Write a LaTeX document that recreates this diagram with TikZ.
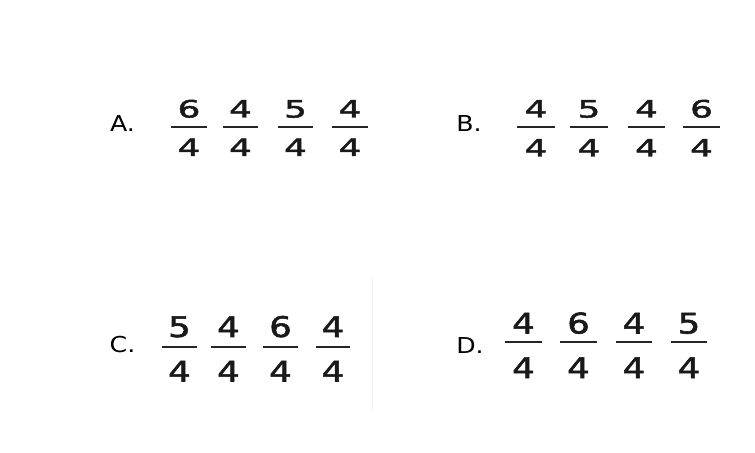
\documentclass[tikz,border=0pt]{standalone}
\usepackage{fontspec}
\setmainfont{DejaVu Sans}
\newfontfamily\digafont[FakeStretch=1.5,FakeBold=2]{DejaVu Sans}
\newfontfamily\digbfont[FakeStretch=1.25,FakeBold=2]{DejaVu Sans}
\newfontfamily\lblfont[FakeStretch=1.15]{DejaVu Sans}
\begin{document}
\begin{tikzpicture}[x=1bp,y=-1bp,
  lbl/.style={anchor=base,inner sep=0pt,font=\lblfont\fontsize{22}{26}\selectfont,text=black},
  dga/.style={anchor=base,inner sep=0pt,font=\digafont\fontsize{24}{28}\selectfont,text=black!90},
  dgb/.style={anchor=base,inner sep=0pt,font=\digbfont\fontsize{28.5}{32}\selectfont,text=black!90},
  bar/.style={line width=1.8bp,black!85}]
\useasboundingbox (0,0) rectangle (755,453);
% faint vertical line
\draw[black!5,line width=1bp] (372,277) -- (372,412);
% labels
\node[lbl] (la) at (122.5,132) {A.};
\node[lbl] (lb) at (469,132) {B.};
\node[lbl] (lc) at (122.5,353) {C.};
\node[lbl] (ld) at (470,354) {D.};
% A
\foreach \n/\cx/\hw/\t in {a1/189/18/6,a2/240.5/17.5/4,a3/295.5/17.5/5,a4/350/18/4}{
  \node[dga] (\n n) at (\cx,117.5) {\t};
  \node[dga] (\n d) at (\cx,156) {4};
  \draw[bar] (\cx-\hw,126.7) -- (\cx+\hw,126.7);
}
% B
\foreach \n/\cx/\hw/\t in {b1/536/19/4,b2/589/19/5,b3/646.5/18.5/4,b4/701.5/18.5/6}{
  \node[dga] (\n n) at (\cx,117.5) {\t};
  \node[dga] (\n d) at (\cx,156.5) {4};
  \draw[bar] (\cx-\hw,126.7) -- (\cx+\hw,126.7);
}
% C
\foreach \n/\cx/\hw/\t in {c1/179.5/17.5/5,c2/228.5/17.5/4,c3/280.5/17.5/6,c4/333/17/4}{
  \node[dgb] (\n n) at (\cx,337) {\t};
  \node[dgb] (\n d) at (\cx,381.5) {4};
  \draw[bar] (\cx-\hw,346.7) -- (\cx+\hw,346.7);
}
% D
\foreach \n/\cx/\hw/\t in {d1/523.5/18.5/4,d2/578.5/18.5/6,d3/634/18/4,d4/689/18/5}{
  \node[dgb] (\n n) at (\cx,333.5) {\t};
  \node[dgb] (\n d) at (\cx,378) {4};
  \draw[bar] (\cx-\hw,341.7) -- (\cx+\hw,341.7);
}
\end{tikzpicture}
\end{document}
